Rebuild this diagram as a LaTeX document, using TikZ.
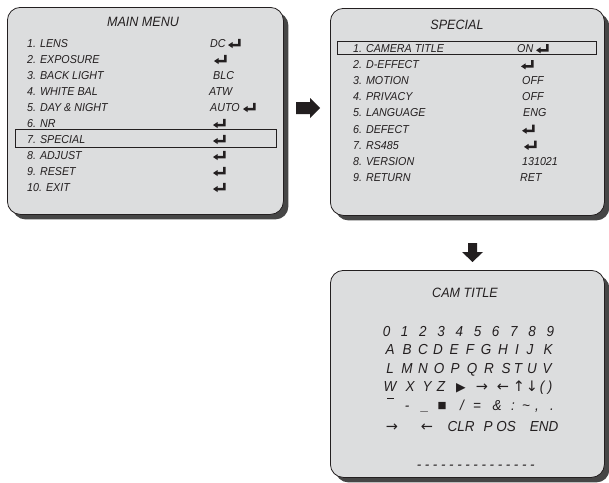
\documentclass[tikz,border=0pt]{standalone}
\usepackage{fontspec}
\setmainfont{Liberation Sans}[FakeStretch=0.93]
\newfontfamily\symfont{DejaVu Sans}
\usetikzlibrary{shadows}
\definecolor{screen-gray}{RGB}{220,221,222}
\definecolor{shadow-gray}{RGB}{70,70,70}
\definecolor{ink}{RGB}{35,31,32}
\tikzset{
  menubox/.style={draw=ink, line width=0.8pt, fill=screen-gray, rounded corners=13pt,
    anchor=north west, inner sep=0pt,
    drop shadow={shadow xshift=5pt, shadow yshift=-5pt, fill=shadow-gray, opacity=1}},
  menutitle/.style={font=\fontsize{13.5}{16}\selectfont\itshape, text=ink, anchor=base, inner sep=0pt},
  item/.style={font=\fontsize{11.5}{14}\selectfont\itshape, text=ink, anchor=base west, inner sep=0pt},
  glyph/.style={font=\fontsize{14.5}{17}\selectfont\itshape, text=ink, anchor=base, inner sep=0pt},
  enter/.pic={\fill[ink] (-7,1.75) -- (-2.5,-1.25) -- (-2.5,0.5) -- (3,0.5) -- (3,-4.5)
    -- (5.5,-4.5) -- (5.5,3) -- (-2.5,3) -- (-2.5,4.75) -- cycle;},
}
\begin{document}
\begin{tikzpicture}[x=1pt, y=-1pt]
  \useasboundingbox (0,0) rectangle (609,482);
  % the three screens
  \node[menubox, minimum width=276pt, minimum height=207pt] (mainmenu) at (7,7) {};
  \node[menubox, minimum width=274pt, minimum height=207pt] (special) at (330,8) {};
  \node[menubox, minimum width=274pt, minimum height=207pt] (camtitle) at (330,270) {};
  % MAIN MENU
  \node[menutitle] (mainmenu-title) at (143,26.7) {MAIN MENU};
  \foreach \txt [count=\i from 0] in {1. LENS, 2. EXPOSURE, 3. BACK LIGHT, 4. WHITE BAL,
      5. DAY \& NIGHT, 6. NR, 7. SPECIAL, 8. ADJUST, 9. RESET, 10. EXIT}
    \node[item] (mm\i) at (27,{47.3+16*\i}) {\txt};
  \foreach \val/\vx/\row in {DC/210/0, BLC/213/2, ATW/209/3, AUTO/210/4}
    \node[item] (mmv\row) at (\vx,{47.3+16*\row}) {\val};
  \foreach \ex/\row in {235/0, 221/1, 250/4, 220/5, 220/6, 220/7, 220/8, 220/9}
    \pic at (\ex,{43.3+16*\row}) {enter};
  \draw[ink, line width=0.7pt] (15,129) rectangle (276,147);
  % SPECIAL
  \node[menutitle] (special-title) at (457,29.3) {SPECIAL};
  \foreach \txt [count=\i from 0] in {1. CAMERA TITLE, 2. D-EFFECT, 3. MOTION, 4. PRIVACY,
      5. LANGUAGE, 6. DEFECT, 7. RS485, 8. VERSION, 9. RETURN}
    \node[item] (sp\i) at (353,{52.5+16.1*\i}) {\txt};
  \foreach \val/\vx/\row in {ON/517/0, OFF/522/2, OFF/522/3, ENG/523/4, 131021/522/7, RET/520/8}
    \node[item] (spv\row) at (\vx,{52.5+16.1*\row}) {\val};
  \foreach \ex/\row in {543/0, 528/1, 529/5, 531/6}
    \pic at (\ex,{48.5+16.1*\row}) {enter};
  \draw[ink, line width=0.7pt] (337,41) rectangle (596,54.5);
  % CAM TITLE
  \node[menutitle] (camtitle-title) at (465,297) {CAM TITLE};
  \foreach \c [count=\i from 0] in {0,...,9}
    \node[glyph] (dg\i) at ({386.5+18.2*\i},336) {\c};
  \foreach \c/\cx in {A/390, B/407, C/423, D/438, E/454, F/470, G/486, H/503, I/517, J/530, K/548}
    \node[glyph] (ch\c) at (\cx,354) {\c};
  \foreach \c/\cx in {L/390, M/407, N/423, O/439, P/455, Q/472, R/489, S/506, T/518, U/532, V/547}
    \node[glyph] (ch\c) at (\cx,373) {\c};
  \foreach \c/\cx [count=\i] in {W/390, X/410, Y/427, Z/441, {(}/542, {)}/550}
    \node[glyph] (rw\i) at (\cx,391) {\c};
  \foreach \c/\cx [count=\i] in {{\fontsize{12.5}{14}\selectfont ▶}/461, →/482, ←/503, ↑/519, ↓/532}
    \node[glyph, font=\fontsize{14.5}{17}\selectfont\symfont] (ar\i) at (\cx,391) {\c};
  \draw[ink, line width=1pt] (387,398) -- (394,398);
  \foreach \cx/\c [count=\i] in {407/-, 425/\_, 462/{/}, 477/=, 497/\&, 513/:,
      526/\textasciitilde, 537/{,}, 552/.}
    \node[glyph] (sy\i) at (\cx,410) {\c};
  \node[glyph, font=\fontsize{9.5}{11}\selectfont\symfont] (sq) at (442,408.5) {■};
  \node[glyph, font=\fontsize{14.5}{17}\selectfont\symfont] (cur-r) at (392,431) {→};
  \node[glyph, font=\fontsize{14.5}{17}\selectfont\symfont] (cur-l) at (427,431) {←};
  \foreach \txt/\cx/\nm in {CLR/461/clr, P/488/p, OS/506/os, END/544/end}
    \node[glyph] (\nm) at (\cx,431) {\txt};
  \foreach \i in {0,...,14}
    \node[glyph] (dash\i) at ({419+8.1*\i},469) {-};
  % block arrows between screens
  \fill[ink] (296,102) -- (310,102) -- (310,98) -- (320,108) -- (310,118) -- (310,114) -- (296,114) -- cycle;
  \fill[ink] (468,243) -- (477,243) -- (477,252) -- (483,252) -- (472.5,262) -- (462,252) -- (468,252) -- cycle;
\end{tikzpicture}
\end{document}
